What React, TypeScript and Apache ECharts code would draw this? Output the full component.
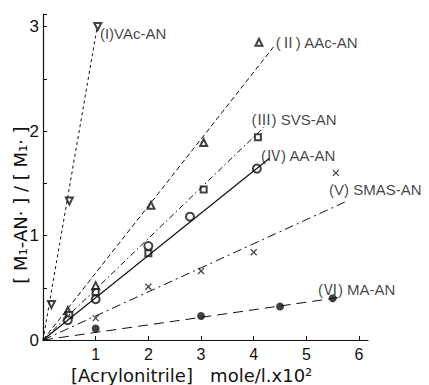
import React, { useEffect, useRef } from "react";
import * as echarts from "echarts";

// ---- data ----
const seriesNames = ["(I)VAc-AN", "(Ⅱ) AAc-AN", "(Ⅲ) SVS-AN", "(Ⅳ) AA-AN", "(V) SMAS-AN", "(Ⅵ) MA-AN"];

const vacPoints = [[0.16, 0.34], [0.5, 1.33], [1.04, 3.0]];
const aacPoints = [[0.47, 0.28], [1.0, 0.52], [2.05, 1.29], [3.05, 1.89], [4.1, 2.85]];
const svsPoints = [[0.5, 0.24], [1.0, 0.46], [2.0, 0.83], [3.05, 1.44], [4.08, 1.94]];
const aaPoints = [[0.47, 0.19], [1.0, 0.39], [2.0, 0.9], [2.79, 1.18], [4.06, 1.64]];
const smasPoints = [[1.0, 0.21], [2.0, 0.51], [3.0, 0.66], [4.0, 0.84], [5.56, 1.6]];
const maPoints = [[1.0, 0.11], [3.0, 0.23], [4.5, 0.32], [5.5, 0.4]];

// fitted lines (start at origin, end where drawn in reference)
const vacLine = [[0, 0], [1.02, 2.97]];
const aacLine = [[0, 0], [4.4, 2.82]];
const svsLine = [[0, 0], [4.2, 2.04]];
const aaLine = [[0, 0], [4.3, 1.74]];
const smasLine = [[0, 0], [5.73, 1.32]];
const maLine = [[0, 0], [5.67, 0.41]];

// label anchors (data units, left edge of text)
const labelAnchors = [[1.08, 2.93], [4.42, 2.85], [3.96, 2.11], [4.14, 1.77], [5.43, 1.44], [5.22, 0.48]];

const xTickValues = [1, 2, 3, 4, 5, 6];
const yTickValues = [0.5, 1, 1.5, 2, 2.5, 3, 3.12];
const yLabelValues = [0, 1, 2, 3];

const xName = "[Acrylonitrile]   mole/l.x10²";
const yName = "[ M₁-AN· ] / [ M₁· ]";

const FONT = '"Liberation Sans", "Noto Sans CJK JP", sans-serif';
const NAME_FONT = '"DejaVu Sans", sans-serif';
const INK = "#111";

export default function App() {
  const ref = useRef<HTMLDivElement>(null);
  useEffect(() => {
    if (!ref.current) return;
    const chart = echarts.init(ref.current, null, { renderer: "svg" });

    const lineDefs = [
      { data: vacLine, type: [3, 3] as any, width: 1 },
      { data: aacLine, type: [5, 3] as any, width: 1 },
      { data: svsLine, type: [6, 3, 1.5, 3] as any, width: 1 },
      { data: aaLine, type: "solid" as any, width: 1.2 },
      { data: smasLine, type: [9, 4, 2, 4] as any, width: 1 },
      { data: maLine, type: [10, 6] as any, width: 1 },
    ];
    const pointDefs = [
      { data: vacPoints, symbol: "emptyTriangle", size: 7, rotate: 180 },
      { data: aacPoints, symbol: "emptyTriangle", size: 7, rotate: 0 },
      { data: svsPoints, symbol: "emptyRect", size: 6, rotate: 0 },
      { data: aaPoints, symbol: "emptyCircle", size: 8, rotate: 0 },
      { data: smasPoints, symbol: "path://M0,0L10,10M10,0L0,10", size: 6, rotate: 0 },
      { data: maPoints, symbol: "circle", size: 8, rotate: 0 },
    ];

    const series: any[] = [];
    lineDefs.forEach((d, i) => {
      series.push({
        type: "line",
        name: seriesNames[i] + " fit",
        data: d.data,
        showSymbol: false,
        silent: true,
        lineStyle: { color: INK, width: d.width, type: d.type },
      });
    });
    pointDefs.forEach((d, i) => {
      series.push({
        type: "scatter",
        name: seriesNames[i],
        data: d.data,
        symbol: d.symbol,
        symbolSize: d.size,
        symbolRotate: d.rotate,
        itemStyle:
          d.symbol.startsWith("path")
            ? { color: "transparent", borderColor: INK, borderWidth: 1.2 }
            : d.symbol.startsWith("empty")
            ? { color: INK, borderColor: INK, borderWidth: 1.1 }
            : { color: INK },
      });
    });
    series.push({
      type: "scatter",
      name: "labels",
      symbolSize: 0,
      silent: true,
      data: labelAnchors.map((p, i) => ({ value: p, name: seriesNames[i] })),
      label: {
        show: true,
        position: "right",
        distance: 0,
        formatter: (p: any) => p.name,
        fontFamily: FONT,
        fontSize: 15,
        color: INK,
      },
    });

    chart.setOption({
      animation: false,
      backgroundColor: "#fff",
      grid: { left: 43, right: 61, top: 14, bottom: 45, containLabel: false },
      xAxis: {
        type: "value",
        min: 0,
        max: 6.17,
        interval: 1,
        splitLine: { show: false },
        axisLine: { show: true, onZero: false, lineStyle: { color: INK, width: 1.2 } },
        axisTick: { show: true, inside: true, length: 4, customValues: xTickValues, lineStyle: { color: INK } },
        axisLabel: { customValues: xTickValues, fontFamily: FONT, fontSize: 16, color: INK, margin: 6 },
      },
      yAxis: {
        type: "value",
        min: 0,
        max: 3.12,
        interval: 0.5,
        splitLine: { show: false },
        axisLine: { show: true, onZero: false, lineStyle: { color: INK, width: 1.2 } },
        axisTick: { show: true, inside: true, length: 4, customValues: yTickValues, lineStyle: { color: INK } },
        axisLabel: { customValues: yLabelValues, fontFamily: FONT, fontSize: 17, color: INK, margin: 4 },
      },
      graphic: [
        {
          type: "text",
          left: 71,
          top: 366,
          style: { text: xName, fontFamily: NAME_FONT, fontSize: 18, fill: INK },
        },
        {
          type: "text",
          x: 20,
          y: 205,
          rotation: Math.PI / 2,
          style: { text: yName, fontFamily: NAME_FONT, fontSize: 18, fill: INK, align: "center", verticalAlign: "middle" },
        },
      ],
      series,
    });
    return () => chart.dispose();
  }, []);
  return (
    <div
      ref={ref}
      style={{ position: "absolute", left: 0, top: 0, width: 429, height: 385 }}
    />
  );
}
